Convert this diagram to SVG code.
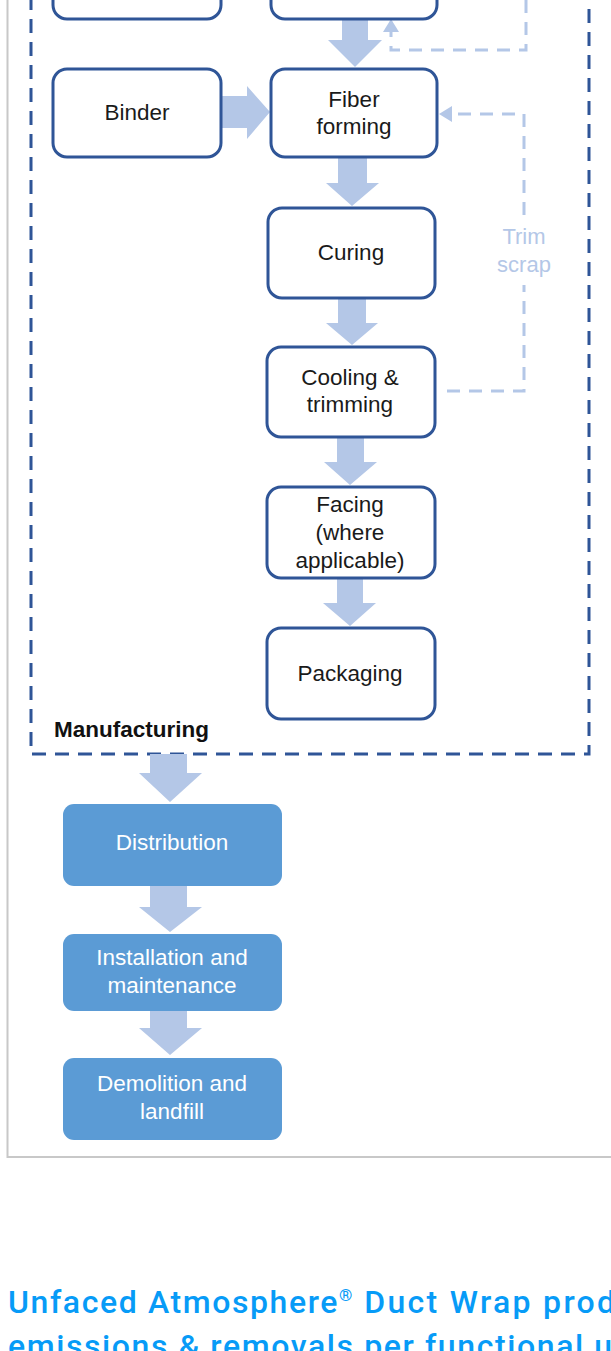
<svg xmlns="http://www.w3.org/2000/svg" width="611" height="1351" viewBox="0 0 611 1351">
<style>
.node{fill:#ffffff;stroke:#2f5597;stroke-width:3}
.bnode{fill:#5b9bd5;stroke:none}
.t{font-family:"Liberation Sans",Arial,sans-serif;font-size:22.5px;fill:#1a1a1a;text-anchor:middle}
.tw{font-family:"Liberation Sans",Arial,sans-serif;font-size:22.5px;fill:#ffffff;text-anchor:middle}
.arrow{fill:#b4c7e7}
.fb{fill:none;stroke:#b4c7e7;stroke-width:3;stroke-dasharray:13 9}
.fbt{font-family:"Liberation Sans",Arial,sans-serif;font-size:22px;fill:#b4c7e7;text-anchor:middle}
.head{font-family:Roboto,"DejaVu Sans",sans-serif;font-weight:500;font-size:32px;letter-spacing:1.6px;fill:#079bf7}
</style>
<rect width="611" height="1351" fill="#ffffff"/>
<path d="M7.5 0 V1157 H611" fill="none" stroke="#c8c8c8" stroke-width="2"/>
<g id="manufacturing">
<rect x="31" y="-100" width="558" height="854" fill="none" stroke="#2f5597" stroke-width="3" stroke-dasharray="14 9"/>
<text x="54" y="737" font-family="Liberation Sans, Arial, sans-serif" font-size="22.5" font-weight="bold" fill="#111111">Manufacturing</text>
</g>
<g id="connectors">
<polygon class="arrow" points="342,19 368,19 368,40 382,40 355,67 328,40 342,40"/>
<polygon class="arrow" points="221,96 247,96 247,86 270,112 247,139 247,128 221,128"/>
<polygon class="arrow" points="338,157 367,157 367,183 379,183 352,206 326,183 338,183"/>
<polygon class="arrow" points="338,298 366,298 366,323 378,323 352,345 326,323 338,323"/>
<polygon class="arrow" points="337,437 364,437 364,462 377,462 350,485 324,462 337,462"/>
<polygon class="arrow" points="337,578 363,578 363,603 376,603 350,626 323,603 337,603"/>
<polygon class="arrow" points="150,754 187,754 187,773 202,773 170,802 139,773 150,773"/>
<polygon class="arrow" points="150,886 187,886 187,907 202,907 170,932 139,907 150,907"/>
<polygon class="arrow" points="150,1011 187,1011 187,1028 202,1028 170,1055 139,1028 150,1028"/>
<path class="fb" d="M526 0 V50 H391 V30"/>
<polygon class="arrow" points="391,19 383,32 399,32"/>
<path class="fb" d="M447 391 H524 V285"/>
<path class="fb" d="M524 215 V114 H452"/>
<polygon class="arrow" points="439,114 452,106 452,122"/>
<text class="fbt" x="524" y="244">Trim</text>
<text class="fbt" x="524" y="272">scrap</text>
</g>
<g id="node-topleft"><rect class="node" x="53" y="-70" width="168" height="89" rx="14"/></g>
<g id="node-topright"><rect class="node" x="271" y="-70" width="166" height="89" rx="14"/></g>
<g id="node-binder"><rect class="node" x="53" y="69" width="168" height="88" rx="14"/><text class="t" x="137" y="120">Binder</text></g>
<g id="node-fiber"><rect class="node" x="271" y="69" width="166" height="88" rx="14"/><text class="t" x="354" y="107">Fiber</text><text class="t" x="354" y="134">forming</text></g>
<g id="node-curing"><rect class="node" x="268" y="208" width="167" height="90" rx="14"/><text class="t" x="351" y="260">Curing</text></g>
<g id="node-cooling"><rect class="node" x="267" y="347" width="168" height="90" rx="14"/><text class="t" x="350" y="385">Cooling &amp;</text><text class="t" x="350" y="412">trimming</text></g>
<g id="node-facing"><rect class="node" x="267" y="487" width="168" height="91" rx="14"/><text class="t" x="350" y="512">Facing</text><text class="t" x="350" y="540">(where</text><text class="t" x="350" y="568">applicable)</text></g>
<g id="node-packaging"><rect class="node" x="267" y="628" width="168" height="91" rx="14"/><text class="t" x="350" y="681">Packaging</text></g>
<g id="node-distribution"><rect class="bnode" x="63" y="804" width="219" height="82" rx="11"/><text class="tw" x="172" y="850">Distribution</text></g>
<g id="node-installation"><rect class="bnode" x="63" y="934" width="219" height="77" rx="11"/><text class="tw" x="172" y="965">Installation and</text><text class="tw" x="172" y="993">maintenance</text></g>
<g id="node-demolition"><rect class="bnode" x="63" y="1058" width="219" height="82" rx="11"/><text class="tw" x="172" y="1091">Demolition and</text><text class="tw" x="172" y="1119">landfill</text></g>
<g id="heading">
<text class="head" x="8" y="1313">Unfaced Atmosphere<tspan font-size="17" dy="-12">®</tspan><tspan dy="12" letter-spacing="2.3px"> Duct Wrap product</tspan></text>
<text class="head" x="8" y="1357" letter-spacing="2px">emissions &amp; removals per functional unit</text>
</g>
</svg>
